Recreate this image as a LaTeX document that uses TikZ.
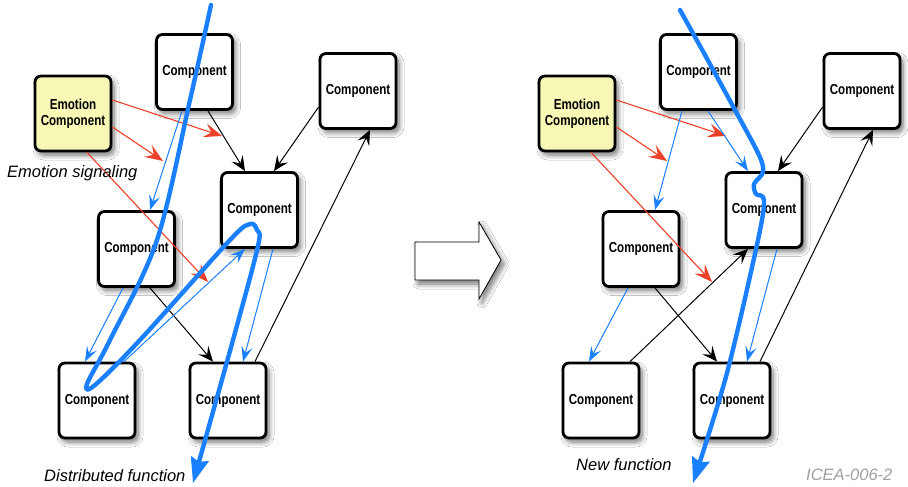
\documentclass[tikz,border=0pt]{standalone}
\usepackage{fontspec}
\setmainfont{Liberation Sans}
\newfontfamily\compfont{Liberation Sans}[FakeStretch=0.8]
\usetikzlibrary{arrows.meta,shadows.blur}
\definecolor{fnblue}{RGB}{26,128,255}
\definecolor{emored}{RGB}{236,64,40}
\definecolor{emoyellow}{RGB}{248,248,182}
\definecolor{labelgray}{RGB}{160,160,160}
\tikzset{
 comp/.style={draw=black, line width=2.8pt, rounded corners=6pt, fill=white,
   minimum width=76pt, minimum height=75pt, inner sep=0pt,
   font=\compfont\bfseries\fontsize{14.5}{16}\selectfont, align=center,
   blur shadow={shadow xshift=3pt, shadow yshift=-4pt, shadow blur steps=8, shadow opacity=55, shadow blur radius=5pt}},
 emo/.style={comp, fill=emoyellow},
 redarr/.style={draw=emored, line width=1.1pt, -{Stealth[length=18pt,width=14pt,inset=7pt]}},
 blackarr/.style={draw=black, line width=1pt, -{Stealth[length=15pt,width=13pt,inset=6pt]}},
 bluearr/.style={draw=fnblue, line width=1pt, -{Stealth[length=15pt,width=11pt,inset=6pt]}},
 flow/.style={draw=fnblue, line width=4.4pt, line cap=round, line join=round, -{Stealth[length=25pt,width=18pt,inset=3pt]}},
 lbl/.style={font=\itshape\fontsize{16.5}{18}\selectfont, anchor=west, inner sep=0pt},
 bigarrow/.style={draw=black, line width=0.8pt, fill=white,
   blur shadow={shadow xshift=3pt, shadow yshift=-4pt, shadow blur steps=8, shadow opacity=55, shadow blur radius=5pt}},
}
\begin{document}
\begin{tikzpicture}[x=1pt,y=-1pt]
\useasboundingbox[fill=white] (0,0) rectangle (908,487);

% ---------- left panel ----------
\node[comp] (T)  at (194.5,72)  {Component};
\node[emo]  (E)  at (73,113.5)  {Emotion\\Component};
\node[comp] (R)  at (358,91)    {Component};
\node[comp] (M)  at (259.5,210) {Component};
\node[comp] (LM) at (136.5,249) {Component};
\node[comp] (BL) at (97,400.5)  {Component};
\node[comp] (BR) at (228,400.5) {Component};

\coordinate (r1) at (222,136);
\coordinate (r2) at (163,161);
\coordinate (r3) at (208,282);
\draw[redarr] ([yshift=13.5pt]E.east) -- (r1);
\draw[redarr] ([yshift=-13.5pt]E.east) -- (r2);
\draw[redarr] ([xshift=14pt]E.south) -- (r3);

\draw[blackarr] ([xshift=13.5pt]T.south) -- ([xshift=-14.5pt]M.north);
\draw[blackarr] ([yshift=-16pt]R.west) -- ([xshift=14.5pt]M.north);
\draw[blackarr] ([xshift=27pt]BR.north) -- ([xshift=12pt]R.south);
\draw[blackarr] ([xshift=13.5pt]LM.south) -- ([xshift=-15pt]BR.north);

\draw[bluearr] ([xshift=-12.5pt]T.south) -- ([xshift=13.5pt]LM.north);
\draw[bluearr] ([xshift=-13.5pt]LM.south) -- ([xshift=-12pt]BL.north);
\draw[bluearr] ([xshift=27pt]BL.north) -- ([xshift=-14.5pt]M.south);
\draw[bluearr] ([xshift=13.5pt]M.south) -- ([xshift=15pt]BR.north);

\node[lbl] (sig) at (7,173) {Emotion signaling};
\node[lbl] (dist) at (44,476) {Distributed function};

\draw[flow] plot[smooth, tension=0.55] coordinates {(211,5) (190,100) (157,240) (110,340) (87,384) (95,385) (140,340) (230,240) (250,224) (257,230) (258,246) (233,340) (193,483)};

% ---------- middle arrow ----------
\draw[bigarrow] (415,242) -- (479,242) -- (479,222) -- (501,260) -- (479,299) -- (479,280) -- (415,280) -- cycle;

% ---------- right panel ----------
\node[comp] (T2)  at (698.5,72)  {Component};
\node[emo]  (E2)  at (577,113.5) {Emotion\\Component};
\node[comp] (R2)  at (862,91)    {Component};
\node[comp] (M2)  at (764,210)   {Component};
\node[comp] (LM2) at (641,249)   {Component};
\node[comp] (BL2) at (601,400.5) {Component};
\node[comp] (BR2) at (732,400.5) {Component};

\coordinate (s1) at (726,136);
\coordinate (s2) at (667,161);
\coordinate (s3) at (712,282);
\draw[redarr] ([yshift=13.5pt]E2.east) -- (s1);
\draw[redarr] ([yshift=-13.5pt]E2.east) -- (s2);
\draw[redarr] ([xshift=14pt]E2.south) -- (s3);

\draw[bluearr] ([xshift=-16.5pt]T2.south) -- ([xshift=14pt]LM2.north);
\draw[bluearr] ([xshift=9.5pt]T2.south) -- ([xshift=-16pt]M2.north);
\draw[blackarr] ([yshift=-16pt]R2.west) -- ([xshift=14pt]M2.north);
\draw[blackarr] ([xshift=28pt]BR2.north) -- ([xshift=11pt]R2.south);
\draw[blackarr] ([xshift=29pt]BL2.north) -- ([xshift=-16pt]M2.south);
\draw[blackarr] ([xshift=14pt]LM2.south) -- ([xshift=-15pt]BR2.north);
\draw[bluearr] ([xshift=-13pt]LM2.south) -- ([xshift=-12pt]BL2.north);
\draw[bluearr] ([xshift=13pt]M2.south) -- ([xshift=15pt]BR2.north);

\node[lbl] (newf) at (576,465) {New function};
\node[lbl, text=labelgray] (icea) at (806,475) {ICEA-006-2};

\draw[flow] plot[smooth, tension=0.5] coordinates {(680,10) (705,55) (735,110) (759,155) (763,172) (754,184) (756,194) (764,200) (758,240) (727,373) (693,483)};
\end{tikzpicture}
\end{document}
